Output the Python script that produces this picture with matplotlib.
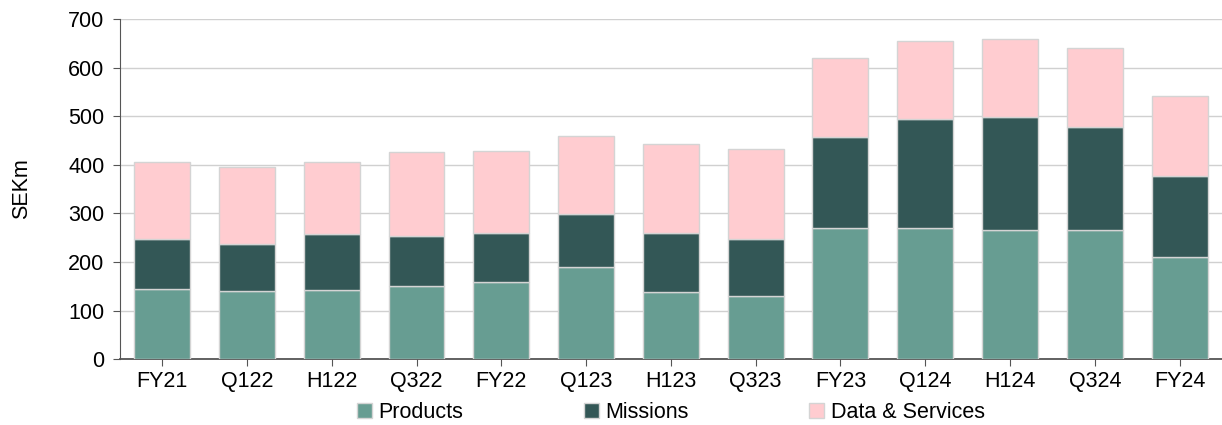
import numpy as np
import matplotlib
matplotlib.use("Agg")
from matplotlib import pyplot as plt

plt.rcParams['font.family'] = ['Liberation Sans', 'DejaVu Sans']

# periods and revenue split (SEKm)
periods = ["FY21", "Q122", "H122", "Q322", "FY22", "Q123", "H123", "Q323",
           "FY23", "Q124", "H124", "Q324", "FY24"]
products = [144, 141, 143, 150, 159, 190, 139, 129, 270, 270, 266, 266, 210]
missions = [104, 95, 114, 104, 100, 109, 120, 119, 188, 224, 233, 212, 168]
data_services = [158, 159, 149, 172, 169, 161, 184, 185, 162, 160, 161, 162, 163]

x = np.arange(len(periods))
p = np.array(products)
m = np.array(missions)
d = np.array(data_services)

fig = plt.figure(figsize=(12.22, 4.25), dpi=100)
ax = fig.add_axes([0.098, 0.155, 0.902, 0.80])

w = 0.66
ec = '#d4d4d4'
ax.bar(x, p, w, color='#679d92', edgecolor=ec, linewidth=1, label='Products', zorder=3)
ax.bar(x, m, w, bottom=p, color='#335756', edgecolor=ec, linewidth=1, label='Missions', zorder=3)
ax.bar(x, d, w, bottom=p + m, color='#ffccd0', edgecolor=ec, linewidth=1, label='Data & Services', zorder=3)

ax.set_xlim(-0.5, len(periods) - 0.5)
ax.set_ylim(0, 700)
ax.set_yticks(range(0, 701, 100))
ax.set_xticks(x)
ax.set_xticklabels(periods)
ax.yaxis.grid(True, color='#d0d0d0', linewidth=1, zorder=0)
ax.set_axisbelow(True)

for s in ['top', 'right']:
    ax.spines[s].set_visible(False)
ax.spines['left'].set_color('#555555')
ax.spines['bottom'].set_color('#555555')
ax.spines['bottom'].set_linewidth(1.3)
ax.tick_params(axis='both', labelsize=15.5, color='#555555', length=5, direction='out')
ax.tick_params(axis='y', pad=6)
ax.set_ylabel('SEKm', fontsize=15.5, labelpad=26)

ax.legend(loc='upper center', bbox_to_anchor=(0.5, -0.1), ncol=3, frameon=False,
          fontsize=15.5, handlelength=0.7, handleheight=0.7, handletextpad=0.3,
          columnspacing=5.6, borderaxespad=0)

plt.savefig('out.png', dpi=100)
